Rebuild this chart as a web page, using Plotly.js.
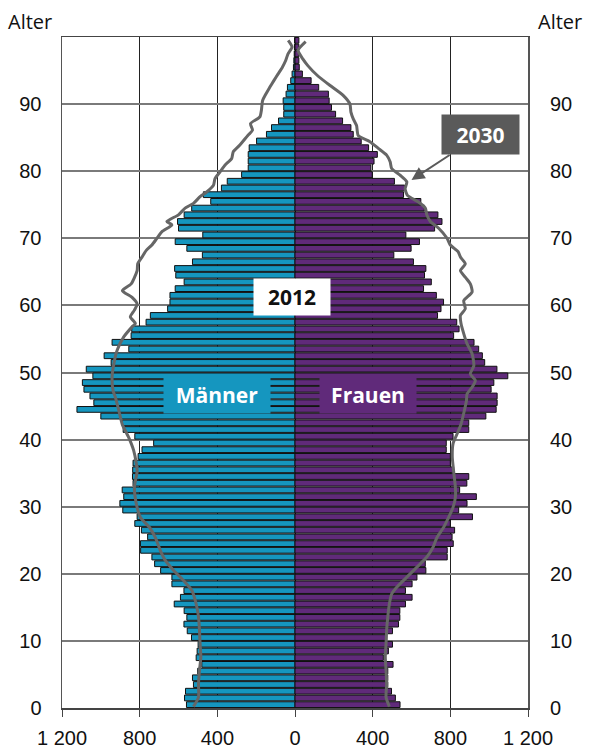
<!DOCTYPE html>
<html>
<head>
<meta charset="utf-8">
<script src="https://cdn.plot.ly/plotly-3.0.1.min.js"></script>
<style>html,body{margin:0;padding:0;background:#fff;}#chart{width:589px;height:749px;}</style>
</head>
<body>
<div id="chart"></div>
<script>
// Ages 0..99 (single years)
const ages = Array.from({length: 100}, (_, i) => i);

// 2012 population (thousands) by age
const maenner2012 = [
  559,569,564,523,528,501,480,509,504,499,
  533,555,572,557,571,622,590,572,634,634,
  692,723,737,795,796,759,791,825,813,887,
  902,882,890,834,837,836,834,808,788,728,
  825,885,890,1000,1123,1036,1056,1087,1095,1041,
  1075,947,983,856,942,844,841,767,745,656,
  644,644,617,571,614,620,528,477,557,617,
  475,600,605,571,532,434,472,379,349,275,
  241,241,241,236,198,147,121,85,58,58,
  61,46,39,22,15,8,6,4,3,2
];
const frauen2012 = [
  541,517,497,478,478,478,505,455,481,502,
  472,502,533,540,540,569,603,569,603,628,
  674,671,784,784,815,809,822,800,914,843,
  886,934,848,885,895,817,800,800,779,779,
  814,895,895,983,1036,1041,1041,1010,1024,1096,
  1040,977,965,946,922,817,845,833,734,752,
  765,728,662,702,667,674,610,509,598,641,
  571,719,757,736,666,648,559,564,512,398,
  391,407,424,379,341,300,288,245,209,188,
  176,172,122,83,38,22,20,20,20,20
];

// 2030 projection outline (age, value)
const maenner2030Age = [0.2,1.6,3.6,5.6,7.6,9.6,11.6,13.6,15.5,17.5,19,20.5,22,23.5,25.4,26.9,28.4,30.4,32.9,35.3,36.4,38.4,40.3,42.3,44.3,46.3,47.3,49.3,51.3,53.3,55.3,56.8,57.3,58.3,59.3,60.2,61.2,62.2,63.2,65.2,66.2,67.2,68.2,69,70,71,72,72.5,73.5,74.5,75.2,76.2,76.9,77.9,78.9,79.9,80.9,81.9,82.9,83.9,85.4,86.1,87.1,88.1,89.1,90.5,91.5,92.5,93.5,94.5,95.5,96.5,97.5,98.5,99.5];
const maenner2030 = [523,497,497,492,485,489,492,497,509,531,574,625,668,694,719,749,796,817,827,813,817,831,856,890,907,925,937,942,933,916,882,839,822,848,827,813,839,889,844,813,810,788,766,737,711,685,634,660,600,566,523,489,455,420,412,386,361,326,318,284,241,219,229,181,173,167,150,130,109,87,65,48,36,15,35];
const frauen2030Age = [0.2,1.6,3.6,5.6,7.6,9.6,11.6,13.6,15.5,17,18,19.5,21,22.5,23.9,25.4,26.9,28.4,29.9,31.4,32.9,35.3,37.4,39.4,40.8,42.3,44.3,45.8,46.8,47.8,48.8,49.8,51,52.8,54.3,55.8,57.3,58.5,59.5,60.7,62,63.2,64.2,65.2,66.2,67.2,68,69,70,71.5,72.5,73.5,74.5,75.4,76.4,77.4,78.4,79.4,80.4,81.4,82.4,83.4,84.4,85.3,86.8,87.8,88.8,90,91.3,92.8,94.3,95.7,96.7,98,99.3];
const frauen2030 = [486,469,472,469,465,469,472,478,486,498,524,576,628,679,710,731,765,791,814,826,826,817,810,814,834,855,872,883,886,912,929,903,921,912,886,869,855,852,877,869,912,903,877,852,877,852,840,800,783,740,697,679,671,636,579,567,576,541,498,490,472,429,386,326,317,300,288,283,248,179,114,67,41,16,55];

const yTicks = [0,10,20,30,40,50,60,70,80,90];
const xTicks = [-1200,-800,-400,0,400,800,1200];
const xTickText = ['1 200','800','400','0','400','800','1 200'];

const colM = '#1596bf';
const colF = '#602a7a';
const colLine = '#666666';
const colBox2030 = '#5a5a5a';

const yMid = ages.map(a => a + 0.5);

const traces = [
  {type:'bar', orientation:'h', x: maenner2012.map(v => -v), y: yMid, width: 0.86,
   marker:{color: colM, line:{color:'#111', width:1}}, hoverinfo:'skip', showlegend:false},
  {type:'bar', orientation:'h', x: frauen2012, y: yMid, width: 0.86,
   marker:{color: colF, line:{color:'#111', width:1}}, hoverinfo:'skip', showlegend:false},
  {type:'scatter', mode:'lines', x: maenner2030.map(v => -v), y: maenner2030Age,
   line:{color: colLine, width:3, shape:'spline', smoothing:0.6}, hoverinfo:'skip', showlegend:false},
  {type:'scatter', mode:'lines', x: frauen2030, y: frauen2030Age,
   line:{color: colLine, width:3, shape:'spline', smoothing:0.6}, hoverinfo:'skip', showlegend:false},
  {type:'scatter', mode:'markers', x:[0], y:[0], yaxis:'y2', marker:{opacity:0}, hoverinfo:'skip', showlegend:false}
];

const tickFont = {family:'Liberation Sans, Arial, sans-serif', size:20, color:'#111'};
const boxFont = {family:'Open Sans, Noto Sans, sans-serif', size:21, color:'#fff'};
const alterFont = {family:'Open Sans, Noto Sans, sans-serif', size:20, color:'#111'};

const layout = {
  width: 589, height: 749,
  margin: {l:62, r:61, t:37, b:41},
  paper_bgcolor:'#fff', plot_bgcolor:'#fff',
  barmode:'overlay', bargap:0,
  showlegend:false,
  xaxis: {range:[-1200,1200], tickvals: xTicks, ticktext: xTickText,
    showgrid:true, gridcolor:'#222', gridwidth:1,
    zeroline:true, zerolinecolor:'#000', zerolinewidth:1,
    showline:true, mirror:true, linecolor:'#444', linewidth:1.5,
    ticks:'outside', ticklen:7, tickcolor:'#444', ticklabelstandoff:4, tickfont: tickFont, fixedrange:true},
  yaxis: {range:[0,100], tickvals: yTicks, showgrid:true, gridcolor:'#7a7a7a', gridwidth:2,
    zeroline:false, showline:true, mirror:true, linecolor:'#555', linewidth:1.5,
    ticks:'', ticklabelstandoff:15, tickfont: tickFont, fixedrange:true},
  yaxis2: {range:[0,100], tickvals: yTicks, overlaying:'y', side:'right', showgrid:false,
    zeroline:false, showline:false, ticks:'', ticklabelstandoff:21, tickfont: tickFont, fixedrange:true},
  annotations: [
    {xref:'paper', yref:'paper', x:(6-62)/466, xanchor:'left', y:(671-(21-37))/671, yanchor:'middle',
     text:'Alter', showarrow:false, font: alterFont},
    {xref:'paper', yref:'paper', x:(536-62)/466, xanchor:'left', y:(671-(21-37))/671, yanchor:'middle',
     text:'Alter', showarrow:false, font: alterFont},
    {x:-17, y:61.3, text:'<b>2012</b>', showarrow:false, bgcolor:'#fff', width:74, height:34,
     font:{family:'Open Sans, Noto Sans, sans-serif', size:21, color:'#111'}},
    {x:-400, y:46.7, text:'<b>Männer</b>', showarrow:false, bgcolor: colM, width:104, height:34, font: boxFont},
    {x:375, y:46.7, text:'<b>Frauen</b>', showarrow:false, bgcolor: colF, width:94, height:34, font: boxFont},
    {x:600, y:78.7, ax:954, ay:85.4, axref:'x', ayref:'y', text:'<b>2030</b>', showarrow:true,
     arrowhead:2, arrowsize:1.3, arrowwidth:2, arrowcolor: colBox2030,
     bgcolor: colBox2030, width:75, height:37, font: boxFont}
  ]
};

Plotly.newPlot('chart', traces, layout, {displayModeBar:false, staticPlot:true});
</script>
</body>
</html>
